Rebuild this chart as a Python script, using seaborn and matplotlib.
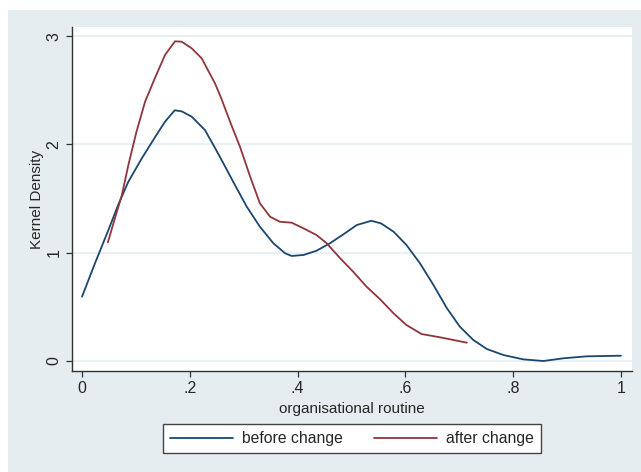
# kernel density of organisational routine, before vs after change (Stata-style look)

import numpy as np
import pandas as pd
import seaborn as sns
import matplotlib.pyplot as plt
from matplotlib.patches import Rectangle

# ----------------------------
# 1. Data
# ----------------------------
before_x = [0.0, 0.024, 0.049, 0.067, 0.086, 0.111, 0.136, 0.154, 0.172, 0.185,
            0.2035, 0.228, 0.247, 0.265, 0.281, 0.3056, 0.330, 0.355, 0.377, 0.389,
            0.411, 0.435, 0.460, 0.485, 0.510, 0.537, 0.555, 0.578, 0.602, 0.627,
            0.652, 0.677, 0.701, 0.726, 0.751, 0.782, 0.819, 0.856, 0.893, 0.936,
            1.0]
before_y = [0.594, 0.902, 1.21, 1.44, 1.656, 1.872, 2.071, 2.21, 2.315, 2.305,
            2.256, 2.133, 1.965, 1.80, 1.650, 1.425, 1.24, 1.087, 0.994, 0.970,
            0.979, 1.018, 1.087, 1.17, 1.256, 1.295, 1.27, 1.194, 1.071, 0.902,
            0.702, 0.487, 0.317, 0.194, 0.111, 0.055, 0.015, 0.0, 0.025, 0.043,
            0.049]

after_x = [0.048, 0.061, 0.074, 0.086, 0.101, 0.117, 0.135, 0.154, 0.1725, 0.185,
           0.2035, 0.222, 0.247, 0.258, 0.2746, 0.293, 0.312, 0.330, 0.349, 0.367,
           0.389, 0.411, 0.435, 0.454, 0.479, 0.503, 0.528, 0.553, 0.578, 0.602,
           0.630, 0.664, 0.714]
after_y = [1.096, 1.318, 1.533, 1.81, 2.117, 2.394, 2.61, 2.826, 2.952, 2.948,
           2.887, 2.795, 2.56, 2.43, 2.21, 1.979, 1.702, 1.456, 1.332, 1.286,
           1.277, 1.225, 1.163, 1.087, 0.948, 0.825, 0.686, 0.57, 0.44, 0.332,
           0.249, 0.219, 0.169]

groups = ["before change", "after change"]
colors = ["#1a476f", "#90353b"]

df = pd.concat([
    pd.DataFrame({"routine": before_x, "density": before_y, "group": groups[0]}),
    pd.DataFrame({"routine": after_x, "density": after_y, "group": groups[1]}),
], ignore_index=True)

# ----------------------------
# 2. Figure setup
# ----------------------------
sns.set_style("ticks")
plt.rcParams["font.family"] = ["Liberation Sans", "DejaVu Sans"]

bg = "#e5edf0"
fig = plt.figure(figsize=(6.41, 4.72), dpi=100, facecolor="white")
# bluish-gray graph region, white strip on top and left
fig.patches.append(Rectangle((8 / 641, 0), 1, 462 / 472, transform=fig.transFigure,
                             facecolor=bg, edgecolor="none", zorder=-10))

ax = fig.add_axes([72 / 641, (472 - 371) / 472, 560 / 641, 344 / 472])
ax.set_facecolor("white")
ax.set_zorder(2)

sns.lineplot(data=df, x="routine", y="density", hue="group", hue_order=groups,
             palette=colors, sort=False, estimator=None, linewidth=1.3,
             legend=False, ax=ax)

# ----------------------------
# 3. Axes styling
# ----------------------------
ax.set_xlim(-0.0186, 1.0204)
ax.set_ylim(-0.0923, 3.084)
ax.set_xticks([0, 0.2, 0.4, 0.6, 0.8, 1])
ax.set_xticklabels(["0", ".2", ".4", ".6", ".8", "1"])
ax.set_yticks([0, 1, 2, 3])
ax.set_yticklabels(["0", "1", "2", "3"], rotation=90, va="center")
for y in [0, 1, 2, 3]:
    ax.axhline(y, color="#eaf1f4", lw=1.5, zorder=0)

for s in ["top", "right"]:
    ax.spines[s].set_visible(False)
for s in ["left", "bottom"]:
    ax.spines[s].set_color("#333333")
    ax.spines[s].set_linewidth(1.0)
ax.tick_params(direction="out", length=4.5, width=0.9, color="#333333",
               labelsize=11.5, pad=3)

ax.set_xlabel("organisational routine", fontsize=11, labelpad=4)
ax.set_ylabel("Kernel Density", fontsize=11, labelpad=2)

# ----------------------------
# 4. Legend below the plot
# ----------------------------
handles = [plt.Line2D([], [], color=c, lw=1.3) for c in colors]
leg = fig.legend(handles, groups, loc="center", ncol=2,
                 bbox_to_anchor=(352 / 641, (472 - 438.5) / 472),
                 frameon=True, fancybox=False, fontsize=11.3, framealpha=1,
                 handlelength=4.0, columnspacing=2.0, handletextpad=0.6,
                 borderpad=0.45, borderaxespad=0)
leg.get_frame().set_edgecolor("#444444")
leg.get_frame().set_linewidth(1.0)
leg.get_frame().set_facecolor("white")

fig.savefig("out.png", dpi=100, facecolor=fig.get_facecolor())
